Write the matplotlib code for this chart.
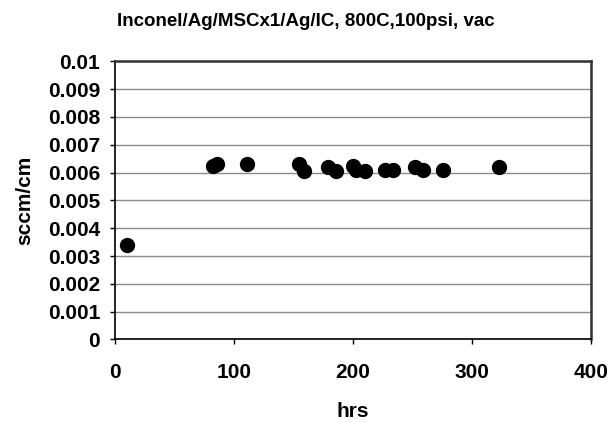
import matplotlib
matplotlib.use("Agg")
import matplotlib.pyplot as plt

hrs = [10, 82, 86, 111, 154.5, 159, 179, 186, 200, 202, 210, 226.5, 233.5, 251.5, 258.5, 275, 322]
sccm_cm = [0.0034, 0.00625, 0.0063, 0.0063, 0.0063, 0.00605, 0.0062, 0.00607, 0.00625, 0.0061,
           0.00605, 0.0061, 0.00608, 0.0062, 0.0061, 0.0061, 0.0062]

title = "Inconel/Ag/MSCx1/Ag/IC, 800C,100psi, vac"
x_label = "hrs"
y_label = "sccm/cm"
y_ticks = [0, 0.001, 0.002, 0.003, 0.004, 0.005, 0.006, 0.007, 0.008, 0.009, 0.01]
y_tick_labels = ["0", "0.001", "0.002", "0.003", "0.004", "0.005", "0.006", "0.007", "0.008", "0.009", "0.01"]
x_ticks = [0, 100, 200, 300, 400]

plt.rcParams['font.family'] = ['Liberation Sans', 'DejaVu Sans']
fig = plt.figure(figsize=(6.11, 4.22), dpi=100)
ax = fig.add_axes([0.188, 0.1955, 0.780, 0.6595])

ax.plot(hrs, sccm_cm, 'o', color='black', markersize=10, zorder=3)

ax.set_xlim(0, 400)
ax.set_ylim(0, 0.01)
ax.set_xticks(x_ticks)
ax.set_xticklabels([str(t) for t in x_ticks])
ax.set_yticks(y_ticks)
ax.set_yticklabels(y_tick_labels)
for lab in ax.get_xticklabels() + ax.get_yticklabels():
    lab.set_fontweight('bold')
    lab.set_fontsize(15)
ax.tick_params(axis='both', direction='out', length=3.6, width=1, color='black')
ax.tick_params(axis='x', pad=13)
ax.tick_params(axis='y', pad=7)

ax.yaxis.grid(True, color='#8c8c8c', linewidth=1)
ax.set_axisbelow(True)

ax.spines['left'].set_color('black')
ax.spines['bottom'].set_color('black')
ax.spines['left'].set_linewidth(1.2)
ax.spines['bottom'].set_linewidth(1.2)
for s in ['top', 'right']:
    ax.spines[s].set_color('#333333')
    ax.spines[s].set_linewidth(1.8)

ax.set_xlabel(x_label, fontsize=15, fontweight='bold', labelpad=15)
ax.set_ylabel(y_label, fontsize=15, fontweight='bold', labelpad=10)
fig.text(0.50, 0.948, title, ha='center', va='center', fontsize=13.5, fontweight='bold')

fig.savefig("out.png", dpi=100, facecolor='white')
